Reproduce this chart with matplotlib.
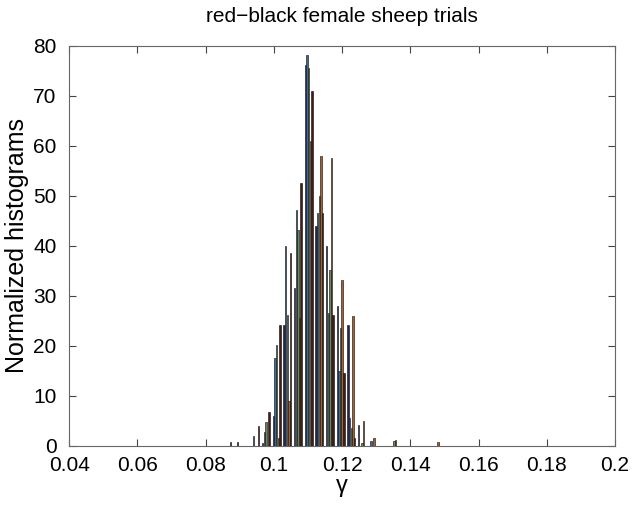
import numpy as np
import matplotlib
matplotlib.use("Agg")
import matplotlib.pyplot as plt

plt.rcParams['font.family'] = ['Liberation Sans', 'DejaVu Sans']

# bin centres of the grouped histogram (49 bins from ~0.0508 to ~0.2008)
bin_start = 0.0508
bin_step = 0.003125
n_bins = 49
bin_centers = bin_start + bin_step * np.arange(n_bins)

# normalized histogram values, bins 12..31, others zero
lead = [0] * 12
tail = [0] * 17
series_1 = lead + [0.8, 0, 0, 0.6, 6.0, 24.2, 31.5, 76.2, 43.9, 39.9, 27.9, 24.2, 4.2, 0, 0, 0, 0, 0, 0, 0] + tail
series_2 = lead + [0, 0, 2.0, 2.8, 17.5, 39.9, 47.2, 78.2, 46.5, 26.5, 14.9, 5.5, 0, 0.9, 0, 0, 0, 0, 0, 0] + tail
series_3 = lead + [0, 0, 0, 4.7, 20.2, 26.2, 43.2, 75.5, 49.9, 35.2, 23.6, 3.5, 0.6, 0, 0, 1.0, 0, 0, 0, 0] + tail
series_4 = lead + [0, 0, 0, 0, 1.5, 9.0, 25.6, 60.9, 57.9, 57.5, 33.2, 25.9, 4.9, 1.5, 0, 1.2, 0, 0, 0, 0.8] + tail
series_5 = lead + [0.8, 0, 4.0, 6.8, 24.2, 38.5, 52.5, 70.9, 46.5, 26.2, 14.5, 1.5, 0, 0, 0, 0, 0, 0, 0, 0] + tail
series = [series_1, series_2, series_3, series_4, series_5]

colors = ['#1c2658', '#3a6aa0', '#5e8c5c', '#a8602e', '#4a1a10']

x_ticks = [0.04, 0.06, 0.08, 0.10, 0.12, 0.14, 0.16, 0.18, 0.2]
x_ticklabels = ['0.04', '0.06', '0.08', '0.1', '0.12', '0.14', '0.16', '0.18', '0.2']
y_ticks = [0, 10, 20, 30, 40, 50, 60, 70, 80]

fig = plt.figure(figsize=(6.4, 5.21), dpi=100)
ax = fig.add_axes([0.108, 0.144, 0.853, 0.768])

n = len(series)
group_w = n / (n + 1.5) * bin_step
slot = group_w / n
bar_w = 0.85 * slot
for i, (vals, c) in enumerate(zip(series, colors)):
    offs = (i - (n - 1) / 2) * slot
    ax.bar(bin_centers + offs, vals, width=bar_w, color=c, edgecolor='#1a1a1a',
           linewidth=0.45, zorder=3)

ax.set_xlim(0.04, 0.2)
ax.set_ylim(0, 80)
ax.set_xticks(x_ticks)
ax.set_xticklabels(x_ticklabels)
ax.set_yticks(y_ticks)
ax.tick_params(direction='in', top=True, right=True, length=5, width=0.8,
               colors='#444444', labelcolor='black', labelsize=15)
ax.tick_params(axis='x', pad=7)
ax.tick_params(axis='y', pad=9)
for s in ax.spines.values():
    s.set_color('#666666')
    s.set_linewidth(0.8)

ax.set_title('red\u2212black female sheep trials', fontsize=15, pad=17)
ax.set_xlabel('\u03b3', fontsize=17, labelpad=0)
ax.set_ylabel('Normalized histograms', fontsize=18, labelpad=3)

fig.savefig('out.png', dpi=100)
